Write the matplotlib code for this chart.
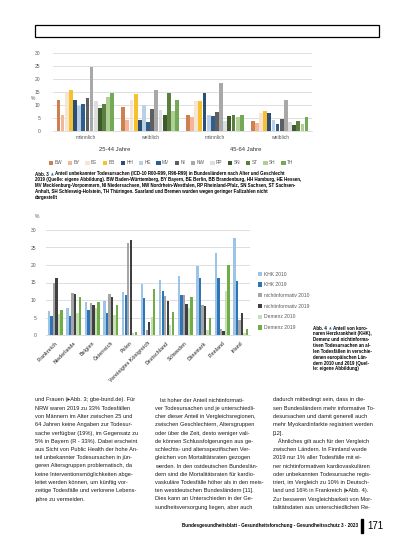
import matplotlib.pyplot as plt
from matplotlib.patches import Rectangle
import numpy as np

plt.rcParams['font.family'] = ['Liberation Sans', 'DejaVu Sans']

W, H = 413, 550
fig = plt.figure(figsize=(W / 100, H / 100), dpi=100)


def box(x0, y0, x1, y1):
    # pixel box -> figure fraction
    return [x0 / W, 1 - y1 / H, (x1 - x0) / W, (y1 - y0) / H]


def fx(x):
    return x / W


def fy(y):
    return 1 - y / H


# ==========================
# Daten Abb. 3
# ==========================
laender = ['BW', 'BY', 'BE', 'BB', 'HH', 'HE', 'MV', 'NI', 'NW', 'RP', 'SN', 'ST', 'SH', 'TH']
laender_farben = ['#D0804F', '#F2B79A', '#F8E4D2', '#F5C12E', '#2B4F77', '#BCD0E5', '#2D5E8C',
                  '#5F5F5F', '#A8A8A8', '#DEDEDE', '#3C5A2B', '#5B7F3E', '#AFCF95', '#76A955']
gruppen = ['männlich', 'weiblich', 'männlich', 'weiblich']
altersgruppen = ['25-44 Jahre', '45-64 Jahre']
m_25_44 = [11.9, 6.0, 14.8, 15.9, 11.9, 9.6, 10.3, 12.6, 24.6, 11.5, 8.7, 10.3, 12.9, 14.5]
w_25_44 = [9.1, 4.2, 12.0, 14.4, 4.2, 10.0, 3.6, 8.4, 15.7, 8.0, 6.1, 14.8, 7.8, 12.1]
m_45_64 = [6.0, 5.2, 11.7, 11.7, 14.7, 6.1, 5.7, 7.4, 18.5, 3.8, 5.7, 6.0, 5.4, 6.0]
w_45_64 = [3.8, 3.2, 6.8, 7.7, 6.9, 4.1, 2.7, 4.6, 11.9, 3.3, 2.2, 3.8, 2.7, 5.2]

# ==========================
# Daten Abb. 4
# ==========================
staaten = ['Frankreich', 'Niederlande', 'Belgien', 'Österreich', 'Polen', 'Vereinigtes Königreich',
           'Deutschland', 'Schweden', 'Dänemark', 'Finnland', 'Irland']
serien = ['KHK 2010', 'KHK 2019', 'nichtinformativ 2010', 'nichtinformativ 2019',
          'Demenz 2010', 'Demenz 2019']
serien_farben = ['#9DC3E6', '#2E75B6', '#A5A5A5', '#404040', '#C5E0B4', '#70AD47']
khk_2010 = [6.9, 7.8, 9.5, 9.7, 12.2, 14.5, 15.7, 16.9, 19.7, 23.3, 27.6]
khk_2019 = [5.4, 5.4, 7.1, 6.2, 11.4, 10.5, 12.7, 11.3, 16.2, 16.2, 15.5]
ni_2010 = [15.0, 11.9, 9.2, 11.7, 26.4, 1.4, 11.1, 11.3, 8.6, 1.6, 4.3]
ni_2019 = [16.2, 11.7, 8.6, 10.8, 27.1, 3.8, 9.7, 9.0, 8.3, 1.1, 6.4]
dem_2010 = [6.0, 6.2, 7.6, 5.7, 0.5, 5.2, 2.9, 7.6, 1.4, 12.6, 0.5]
dem_2019 = [7.1, 11.0, 9.4, 8.6, 0.8, 13.1, 6.5, 11.0, 4.8, 20.0, 1.7]

grau = '#595959'

# ==========================
# Kopfkasten
# ==========================
fig.patches.append(Rectangle((fx(35), fy(37)), (379 - 35) / W, 12 / H,
                             transform=fig.transFigure, fill=False, lw=0.9, ec='black'))

# ==========================
# Abb. 3
# ==========================
ax = fig.add_axes(box(53, 53, 312, 131))
werte = np.array([m_25_44, w_25_44, m_45_64, w_45_64])
x = np.arange(len(gruppen))
bw = 0.064
for i, (land, farbe) in enumerate(zip(laender, laender_farben)):
    ax.bar(x + (i - 6.5) * bw, werte[:, i], width=bw * 0.92, color=farbe, label=land)
ax.set_xlim(-0.5, 3.5)
ax.set_ylim(0, 30)
ax.set_yticks(range(0, 31, 5))
ax.set_xticks(x)
ax.set_xticklabels(gruppen)
ax.tick_params(axis='both', length=0, labelsize=3.6, colors=grau, pad=3)
ax.tick_params(axis='y', pad=9)
ax.grid(axis='y', color='#D9D9D9', lw=0.6)
ax.set_axisbelow(True)
for s in ['top', 'right', 'left']:
    ax.spines[s].set_visible(False)
ax.spines['bottom'].set_color('#D9D9D9')
ax.spines['bottom'].set_linewidth(0.6)
fig.text(fx(33), fy(98), '%', fontsize=3.6, color=grau, ha='center', va='center')
fig.text(fx(115), fy(149), altersgruppen[0], fontsize=4.2, color='#333333', ha='center', va='center')
fig.text(fx(246), fy(149), altersgruppen[1], fontsize=4.2, color='#333333', ha='center', va='center')
ax.legend(loc='center', bbox_to_anchor=(fx(171), fy(163)), bbox_transform=fig.transFigure,
          ncol=14, frameon=False, fontsize=3.4, handlelength=0.9, handleheight=0.9,
          handletextpad=0.3, columnspacing=1.2, labelcolor=grau)

# Bildunterschrift Abb. 3
cap3 = [
    'Anteil unbekannter Todesursachen (ICD-10 R00-R99, R96-R99) in Bundesländern nach Alter und Geschlecht',
    '2019 (Quelle: eigene Abbildung). BW Baden-Württemberg, BY Bayern, BE Berlin, BB Brandenburg, HH Hamburg, HE Hessen,',
    'MV Mecklenburg-Vorpommern, NI Niedersachsen, NW Nordrhein-Westfalen, RP Rheinland-Pfalz, SN Sachsen, ST Sachsen-',
    'Anhalt, SH Schleswig-Holstein, TH Thüringen. Saarland und Bremen wurden wegen geringer Fallzahlen nicht',
    'dargestellt',
]
fs_cap = 3.25
fig.text(fx(35), fy(174), 'Abb. 3', fontsize=fs_cap, weight='bold', va='center')
fig.text(fx(50.5), fy(174), '▲', fontsize=2.6, color='#2E75B6', va='center', family='DejaVu Sans')
fig.text(fx(55), fy(174), cap3[0], fontsize=fs_cap, weight='bold', va='center')
for k, zeile in enumerate(cap3[1:]):
    fig.text(fx(35), fy(180 + k * 5.8), zeile, fontsize=fs_cap, weight='bold', va='center')

# ==========================
# Abb. 4
# ==========================
ax2 = fig.add_axes(box(46, 230, 250, 335))
reihen = [khk_2010, khk_2019, ni_2010, ni_2019, dem_2010, dem_2019]
x2 = np.arange(len(staaten))
bw2 = 0.135
for j, (werte2, name, farbe) in enumerate(zip(reihen, serien, serien_farben)):
    ax2.bar(x2 + (j - 2.5) * bw2, werte2, width=bw2 * 0.95, color=farbe, label=name)
ax2.set_xlim(-0.5, len(staaten) - 0.5)
ax2.set_ylim(0, 30)
ax2.set_yticks(range(0, 31, 5))
ax2.set_xticks(x2)
ax2.set_xticklabels(staaten, rotation=45, ha='right', rotation_mode='anchor',
                    fontsize=3.6, weight='bold', color='#404040')
ax2.tick_params(axis='both', length=0, colors=grau, pad=4)
ax2.tick_params(axis='y', labelsize=3.6, pad=7)
ax2.grid(axis='y', color='#D9D9D9', lw=0.6)
ax2.set_axisbelow(True)
for s in ['top', 'right', 'left']:
    ax2.spines[s].set_visible(False)
ax2.spines['bottom'].set_color('#D9D9D9')
ax2.spines['bottom'].set_linewidth(0.6)
fig.text(fx(37), fy(217), '%', fontsize=3.6, color=grau, ha='center', va='center')
ax2.legend(loc='upper left', bbox_to_anchor=(fx(253), fy(267)), bbox_transform=fig.transFigure,
           frameon=False, fontsize=3.6, handlelength=0.9, handleheight=0.9,
           handletextpad=0.3, labelspacing=1.15, labelcolor=grau)

cap4 = [
    'Anteil von koro-',
    'naren Herzkrankheit (KHK),',
    'Demenz und nichtinforma-',
    'tiven Todesursachen an al-',
    'len Todesfällen in verschie-',
    'denen europäischen Län-',
    'dern 2010 und 2019 (Quel-',
    'le: eigene Abbildung)',
]
fig.text(fx(313), fy(328), 'Abb. 4', fontsize=fs_cap, weight='bold', va='center')
fig.text(fx(328.5), fy(328), '▲', fontsize=2.6, color='#2E75B6', va='center', family='DejaVu Sans')
fig.text(fx(333), fy(328), cap4[0], fontsize=fs_cap, weight='bold', va='center')
for k, zeile in enumerate(cap4[1:]):
    fig.text(fx(313), fy(334 + k * 5.8), zeile, fontsize=fs_cap, weight='bold', va='center')

# ==========================
# Fließtext
# ==========================
spalte1 = [
    'und Frauen (▸Abb. 3; gbe-bund.de). Für',
    'NRW waren 2019 zu 33% Todesfällen',
    'von Männern im Alter zwischen 25 und',
    '64 Jahren keine Angaben zur Todesur-',
    'sache verfügbar (19%), im Gegensatz zu',
    '5% in Bayern (R - 33%). Dabei erscheint',
    'aus Sicht von Public Health der hohe An-',
    'teil unbekannter Todesursachen in jün-',
    'geren Altersgruppen problematisch, da',
    'keine Interventionsmöglichkeiten abge-',
    'leitet werden können, um künftig vor-',
    'zeitige Todesfälle und verlorene Lebens-',
    'jahre zu vermeiden.',
]
spalte2 = [
    '   Ist hoher der Anteil nichtinformati-',
    'ver Todesursachen und je unterschiedli-',
    'cher dieser Anteil in Vergleichsregionen,',
    'zwischen Geschlechtern, Altersgruppen',
    'oder über die Zeit, desto weniger vali-',
    'de können Schlussfolgerungen aus ge-',
    'schlechts- und altersspezifischen Ver-',
    'gleichen von Mortalitätsraten gezogen',
    'werden. In den ostdeutschen Bundeslän-',
    'dern sind die Mortalitätsraten für kardio-',
    'vaskuläre Todesfälle höher als in den meis-',
    'ten westdeutschen Bundesländern [11].',
    'Dies kann an Unterschieden in der Ge-',
    'sundheitsversorgung liegen, aber auch',
]
spalte3 = [
    'dadurch mitbedingt sein, dass in die-',
    'sen Bundesländern mehr informative To-',
    'desursachen und damit generell auch',
    'mehr Myokardinfarkte registriert werden',
    '[12].',
    '   Ähnliches gilt auch für den Vergleich',
    'zwischen Ländern. In Finnland wurde',
    '2019 nur 1% aller Todesfälle mit ei-',
    'ner nichtinformativen kardiovaskulären',
    'oder unbekannten Todesursache regis-',
    'triert, im Vergleich zu 10% in Deutsch-',
    'land und 16% in Frankreich (▸Abb. 4).',
    'Zur besseren Vergleichbarkeit von Mor-',
    'talitätsdaten aus unterschiedlichen Re-',
]
for x0, spalte in [(35, spalte1), (155, spalte2), (273, spalte3)]:
    for k, zeile in enumerate(spalte):
        fig.text(fx(x0), fy(400 + k * 8.25), zeile, fontsize=4.1, va='center', color='#1A1A1A')

# ==========================
# Fußzeile
# ==========================
fig.text(fx(358), fy(526), 'Bundesgesundheitsblatt - Gesundheitsforschung - Gesundheitsschutz 3 · 2023',
         fontsize=3.3, weight='bold', ha='right', va='center')
fig.patches.append(Rectangle((fx(361), fy(533)), 2.2 / W, 14 / H, transform=fig.transFigure,
                             color='black'))
fig.text(fx(367), fy(526), '171', fontsize=7, ha='left', va='center')

fig.savefig('out.png', dpi=100)
